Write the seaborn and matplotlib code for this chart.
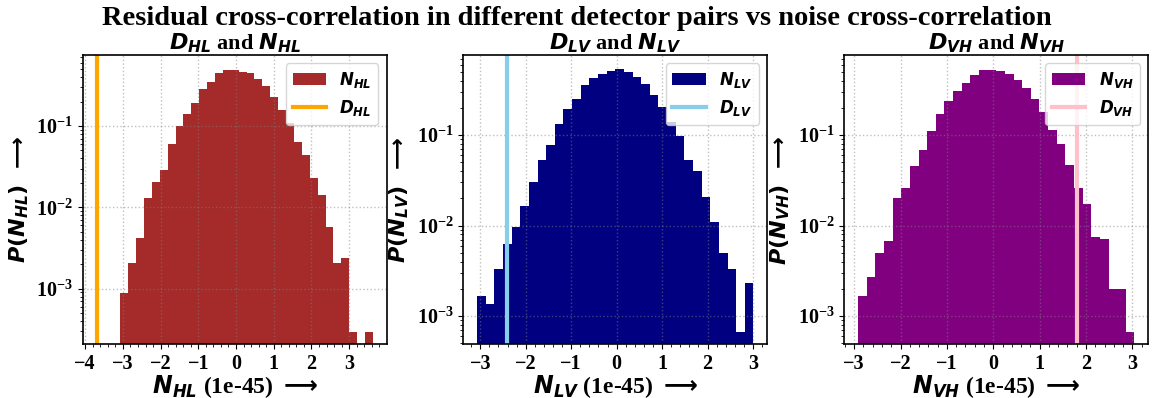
import numpy as np
import pandas as pd
import matplotlib
matplotlib.use("Agg")
import matplotlib.pyplot as plt
import seaborn as sns
from matplotlib.patches import Patch
from matplotlib.lines import Line2D
from matplotlib.ticker import MultipleLocator, AutoMinorLocator

# ---------------- data ----------------
pairs = ["HL", "LV", "VH"]
n_bins = 32
bin_range_HL = (-3.07, 3.63)
bin_range_LV = (-3.07, 3.01)
bin_range_VH = (-2.916, 3.045)

density_HL = [8.9e-4, 2.08e-3, 4.21e-3, 0.0130, 0.0206, 0.0284, 0.0597, 0.100,
              0.139, 0.193, 0.284, 0.343, 0.442, 0.485, 0.494, 0.462,
              0.442, 0.377, 0.312, 0.224, 0.157, 0.108, 0.0643, 0.0441,
              0.0229, 0.0143, 5.74e-3, 2.08e-3, 2.40e-3, 2.97e-4, 0.0, 2.97e-4]
density_LV = [1.66e-3, 1.35e-3, 3.33e-3, 6.28e-3, 9.59e-3, 0.0165, 0.0306, 0.0535,
              0.0769, 0.133, 0.192, 0.252, 0.359, 0.422, 0.474, 0.516,
              0.530, 0.496, 0.437, 0.368, 0.274, 0.204, 0.139, 0.0967,
              0.0535, 0.0397, 0.0207, 0.0108, 4.91e-3, 3.30e-3, 6.71e-4, 2.29e-3]
density_VH = [1.66e-3, 2.67e-3, 5.0e-3, 6.67e-3, 0.0200, 0.0262, 0.0459, 0.0689,
              0.112, 0.172, 0.239, 0.305, 0.377, 0.455, 0.521, 0.526,
              0.516, 0.474, 0.407, 0.333, 0.252, 0.180, 0.115, 0.0796,
              0.0463, 0.0260, 0.0172, 7.38e-3, 7.01e-3, 1.99e-3, 1.99e-3, 6.71e-4]

D_HL = -3.70
D_LV = -2.416
D_VH = 1.81

ranges = [bin_range_HL, bin_range_LV, bin_range_VH]
densities = [density_HL, density_LV, density_VH]
D_values = [D_HL, D_LV, D_VH]
bar_colors = ["brown", "navy", "purple"]
line_colors = ["orange", "skyblue", "pink"]
ylims = [(2.07e-4, 0.746), (4.87e-4, 0.766), (4.87e-4, 0.766)]

# ---------------- style ----------------
plt.rcParams.update({
    "font.family": ["Liberation Serif", "DejaVu Serif"],
    "font.weight": "bold",
    "axes.labelweight": "bold",
    "axes.titleweight": "bold",
    "mathtext.fontset": "custom",
    "mathtext.rm": "Liberation Serif:bold",
    "mathtext.it": "DejaVu Sans:italic:bold",
    "mathtext.bf": "DejaVu Sans:bold",
    "mathtext.bfit": "DejaVu Sans:italic:bold",
    "mathtext.sf": "DejaVu Sans",
    "mathtext.fallback": "stix",
    "xtick.labelsize": 14.5,
    "ytick.labelsize": 14.5,
})

fig = plt.figure(figsize=(11.53, 3.98), dpi=100)
W, H = 1153, 398
lefts = [82.7, 463.3, 844.3]
ax_w = 304.0
ax_top, ax_bot = 55.0, 344.3

ARROW = r"$\mathsf{\longrightarrow}$"

def bfit(s):
    return r"\mathbfit{" + s + "}"

for i, p in enumerate(pairs):
    ax = fig.add_axes([lefts[i] / W, (H - ax_bot) / H, ax_w / W, (ax_bot - ax_top) / H])
    lo, hi = ranges[i]
    width = (hi - lo) / n_bins
    centers = lo + width * (np.arange(n_bins) + 0.5)
    df = pd.DataFrame({"x": centers, "w": densities[i]})
    sns.histplot(data=df, x="x", weights="w", bins=n_bins, binrange=(lo, hi),
                 stat="count", color=bar_colors[i], alpha=1.0, linewidth=0,
                 edgecolor="none", ax=ax)
    ax.axvline(D_values[i], color=line_colors[i], lw=3, zorder=2)
    ax.set_yscale("log")
    ax.set_ylim(*ylims[i])
    ax.xaxis.set_major_locator(MultipleLocator(1))
    ax.xaxis.set_minor_locator(AutoMinorLocator(5))
    ax.grid(True, which="major", linestyle=":", color="gray", alpha=0.5, lw=1)
    for s in ax.spines.values():
        s.set_linewidth(1.2)

    Nsym = bfit("N") + "_{" + bfit(p) + "}"
    Dsym = bfit("D") + "_{" + bfit(p) + "}"
    ax.set_title(f"${Dsym}$ and ${Nsym}$", fontsize=16, pad=4)
    ax.set_xlabel(f"${Nsym}$ (1e-45) " + ARROW, fontsize=17, labelpad=-1)
    ax.set_ylabel(f"${bfit('P')}\\mathbf{{(}}{Nsym}\\mathbf{{)}}$  " + ARROW,
                  fontsize=16, labelpad=4)

    handles = [Patch(facecolor=bar_colors[i], edgecolor="none"),
               Line2D([0], [0], color=line_colors[i], lw=3)]
    ax.legend(handles, [f"${Nsym}$", f"${Dsym}$"], loc="upper right", fontsize=12)

fig.suptitle("Residual cross-correlation in different detector pairs vs noise cross-correlation",
             fontsize=20.5, fontweight="bold", y=0.985, va="top")

fig.savefig("out.png", dpi=100)
